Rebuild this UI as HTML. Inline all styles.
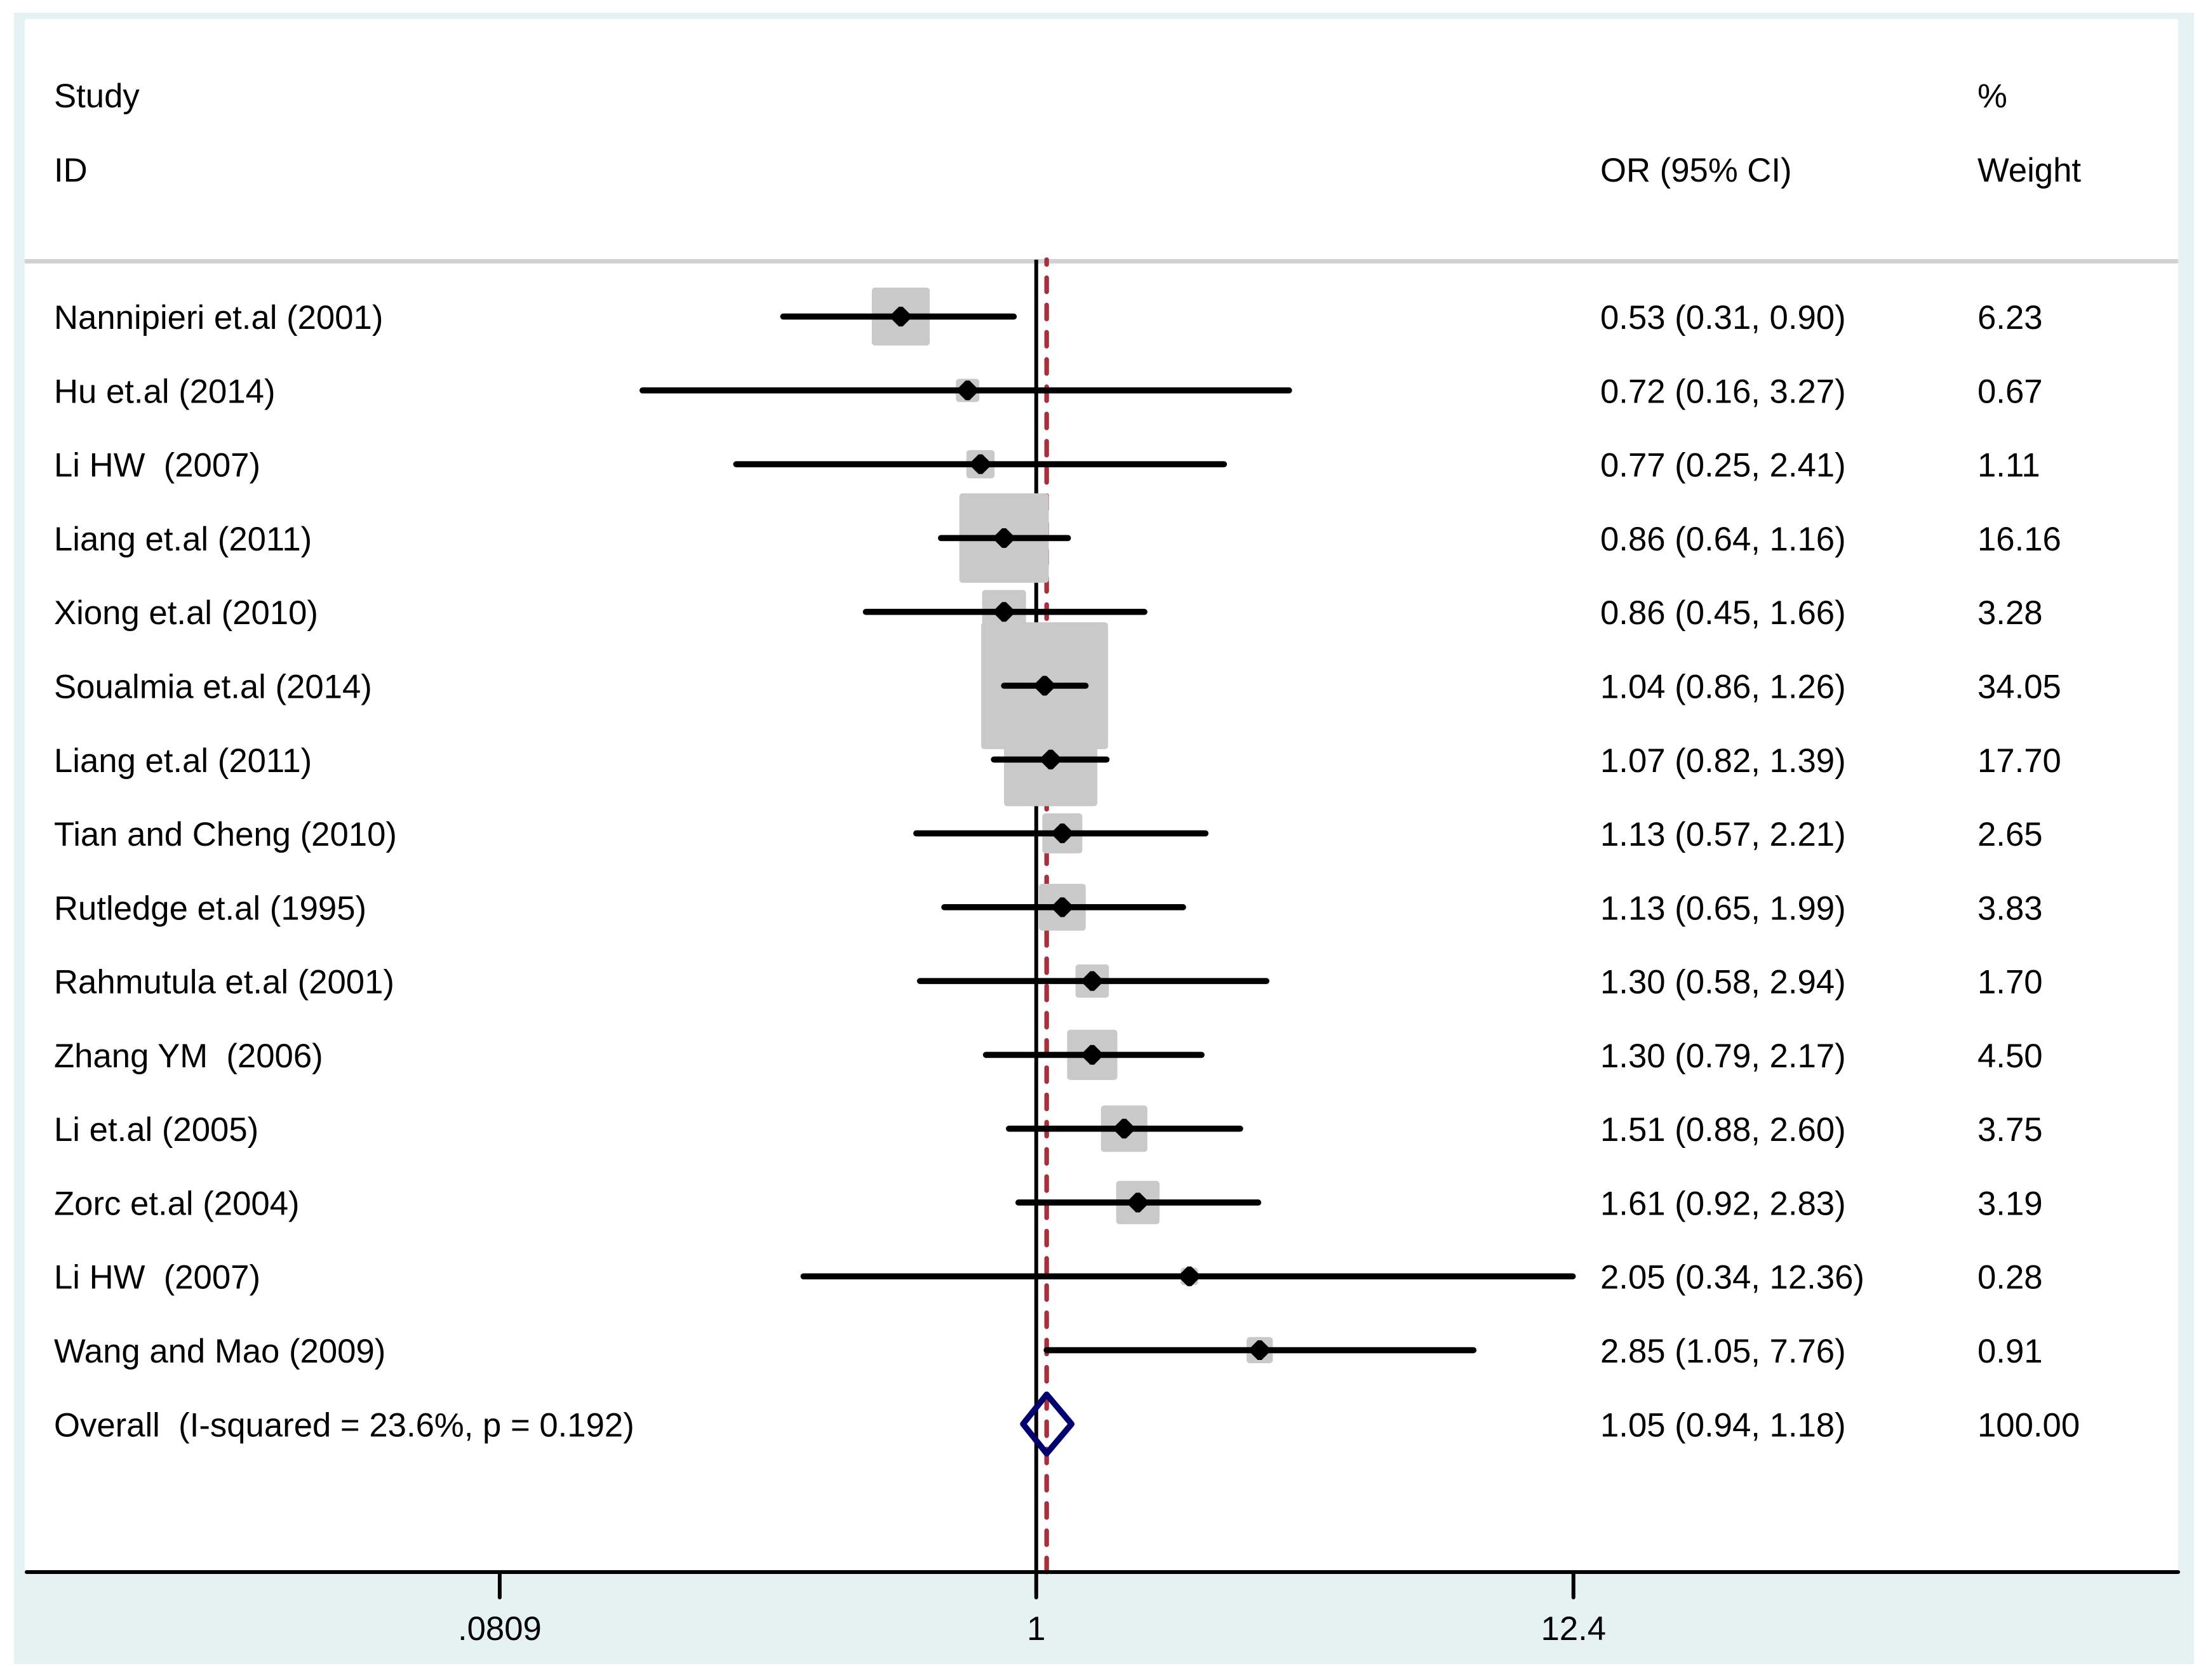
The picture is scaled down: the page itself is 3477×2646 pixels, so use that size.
<!DOCTYPE html>
<html lang="en">
<head>
<meta charset="utf-8">
<title>Forest plot</title>
<style>
  html, body { margin: 0; padding: 0; background: #ffffff; }
  svg { display: block; }
  text { font-family: "Liberation Sans", Arial, sans-serif; font-size: 52.7px; fill: #000000; white-space: pre; }
</style>
</head>
<body>
<svg id="chart" xmlns="http://www.w3.org/2000/svg" width="3477" height="2646" viewBox="0 0 3477 2646">
  <rect x="0" y="0" width="3477" height="2646" fill="#ffffff"/>
  <rect x="22" y="20" width="3433" height="2601" fill="#e6f2f2"/>
  <rect x="39" y="30" width="3391" height="2446" rx="3" fill="#ffffff"/>
  <rect x="39" y="408" width="3391" height="7" rx="2" fill="#d2d2d2"/>
  <text x="85" y="169">Study</text>
  <text x="85" y="286">ID</text>
  <text x="2520" y="286">OR (95% CI)</text>
  <text x="3114" y="169">%</text>
  <text x="3114" y="286">Weight</text>
  <g id="reference-layer"></g>
  <g id="box-layer"></g>
  <g id="ci-layer"></g>
  <g id="marker-layer"></g>
  <g id="overall-layer"></g>
  <g id="axis-layer"></g>
  <g id="label-layer"></g>
</svg>
<script>
const studies = ["Nannipieri et.al (2001)", "Hu et.al (2014)", "Li HW  (2007)", "Liang et.al (2011)", "Xiong et.al (2010)", "Soualmia et.al (2014)", "Liang et.al (2011)", "Tian and Cheng (2010)", "Rutledge et.al (1995)", "Rahmutula et.al (2001)", "Zhang YM  (2006)", "Li et.al (2005)", "Zorc et.al (2004)", "Li HW  (2007)", "Wang and Mao (2009)"];
const oddsRatios = [0.53, 0.7249, 0.77, 0.86, 0.86, 1.04, 1.07, 1.13, 1.13, 1.30, 1.30, 1.51, 1.61, 2.05, 2.85];
const ciLower = [0.3055, 0.158, 0.2451, 0.64, 0.45, 0.86, 0.82, 0.57, 0.65, 0.58, 0.79, 0.88, 0.92, 0.336, 1.05];
const ciUpper = [0.90, 3.27, 2.41, 1.16, 1.66, 1.26, 1.39, 2.21, 1.99, 2.94, 2.17, 2.60, 2.83, 12.36, 7.76];
const weights = [6.23, 0.67, 1.11, 16.16, 3.28, 34.05, 17.70, 2.65, 3.83, 1.70, 4.50, 3.75, 3.19, 0.28, 0.91];
const overallLabel = "Overall  (I-squared = 23.6%, p = 0.192)";
const overallOr = 1.05;
const overallLower = 0.94;
const overallUpper = 1.18;
const overallWeight = 100.00;
const xTickValues = [0.0809, 1, 12.4];
const xTickLabels = [".0809", "1", "12.4"];

const SVG_NS = "http://www.w3.org/2000/svg";
const FIRST_ROW_Y = 498.6;
const ROW_STEP = 116.28;
const X_ORIGIN = 1631.8;
const X_SCALE = 336;
const AXIS_Y = 2476;
const BASELINE_SHIFT = 19.5;

function xPos(value) { return X_ORIGIN + Math.log(value) * X_SCALE; }
function yPos(rowIndex) { return FIRST_ROW_Y + rowIndex * ROW_STEP; }
function boxSide(weight) { return 10.2 + 32.5 * Math.sqrt(weight); }
function make(tag, props, parent) {
  const el = document.createElementNS(SVG_NS, tag);
  for (const key in props) el.setAttribute(key, props[key]);
  parent.appendChild(el);
  return el;
}
function ciText(or, lo, hi) {
  return or.toFixed(2) + " (" + lo.toFixed(2) + ", " + hi.toFixed(2) + ")";
}
function markerPoints(cx, cy) {
  const w = 13.5, h = 15.5, flat = 3, side = 5;
  return [
    [cx - flat, cy - h], [cx + flat, cy - h], [cx + w, cy - side], [cx + w, cy + side],
    [cx + flat, cy + h], [cx - flat, cy + h], [cx - w, cy + side], [cx - w, cy - side]
  ].map(function (p) { return p[0] + "," + p[1]; }).join(" ");
}

const referenceLayer = document.getElementById("reference-layer");
const boxLayer = document.getElementById("box-layer");
const ciLayer = document.getElementById("ci-layer");
const markerLayer = document.getElementById("marker-layer");
const overallLayer = document.getElementById("overall-layer");
const axisLayer = document.getElementById("axis-layer");
const labelLayer = document.getElementById("label-layer");

const nullLine = make("line", { x1: xPos(1), x2: xPos(1), y1: 409, y2: AXIS_Y, stroke: "#000000", "stroke-width": 6 }, referenceLayer);



const overallLine = make("line", { x1: xPos(overallOr), x2: xPos(overallOr), y1: 409, y2: AXIS_Y, stroke: "#a6303c", "stroke-width": 7.3, "stroke-dasharray": "22 20.9", "stroke-dashoffset": 14.4, "stroke-linecap": "round" }, referenceLayer);



studies.forEach(function (study, i) {
  const cx = xPos(oddsRatios[i]);
  const cy = yPos(i);
  const side = boxSide(weights[i]);

  const box = make("rect", { x: cx - side / 2, y: cy - side / 2, width: side, height: side, rx: 5, fill: "#c9c9c9" }, boxLayer);
  
  

  const ci = make("line", { x1: xPos(ciLower[i]), x2: xPos(ciUpper[i]), y1: cy, y2: cy, stroke: "#000000", "stroke-width": 9.6, "stroke-linecap": "round" }, ciLayer);
  
  

  const marker = make("polygon", { points: markerPoints(cx, cy), fill: "#000000" }, markerLayer);
  
  

  const nameLabel = make("text", { x: 85, y: cy + BASELINE_SHIFT }, labelLayer);
  nameLabel.textContent = study;
  
  

  const orLabel = make("text", { x: 2520, y: cy + BASELINE_SHIFT }, labelLayer);
  orLabel.textContent = ciText(oddsRatios[i], ciLower[i], ciUpper[i]);
  
  

  const weightLabel = make("text", { x: 3114, y: cy + BASELINE_SHIFT }, labelLayer);
  weightLabel.textContent = weights[i].toFixed(2);
  
  
});

const overallRow = studies.length;
const overallY = yPos(overallRow);
const diamond = make("polygon", {
  points: xPos(overallLower) + "," + overallY + " " + xPos(overallOr) + "," + (overallY - 46.5) + " " + xPos(overallUpper) + "," + overallY + " " + xPos(overallOr) + "," + (overallY + 46.5),
  fill: "none", stroke: "#00006e", "stroke-width": 9.4, "stroke-linejoin": "round"
}, overallLayer);



const overallName = make("text", { x: 85, y: overallY + BASELINE_SHIFT }, labelLayer);
overallName.textContent = overallLabel;



const overallCi = make("text", { x: 2520, y: overallY + BASELINE_SHIFT }, labelLayer);
overallCi.textContent = ciText(overallOr, overallLower, overallUpper);



const overallPct = make("text", { x: 3114, y: overallY + BASELINE_SHIFT }, labelLayer);
overallPct.textContent = overallWeight.toFixed(2);



const axisLine = make("line", { x1: 42, x2: 3430, y1: AXIS_Y, y2: AXIS_Y, stroke: "#000000", "stroke-width": 6, "stroke-linecap": "round" }, axisLayer);



xTickValues.forEach(function (value, i) {
  const tick = make("line", { x1: xPos(value), x2: xPos(value), y1: AXIS_Y, y2: 2516, stroke: "#000000", "stroke-width": 6, "stroke-linecap": "round" }, axisLayer);
  
  

  const tickLabel = make("text", { x: xPos(value), y: 2583, "text-anchor": "middle" }, axisLayer);
  tickLabel.textContent = xTickLabels[i];
  
  
});
</script>
</body>
</html>
